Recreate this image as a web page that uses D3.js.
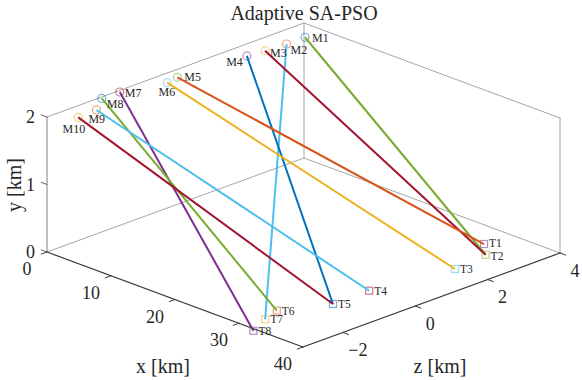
<!DOCTYPE html>
<html>
<head>
<meta charset="utf-8">
<script src="https://cdn.jsdelivr.net/npm/d3@7/dist/d3.min.js"></script>
<style>
  html, body { margin: 0; padding: 0; background: #fff; }
</style>
</head>
<body>
<svg id="chart" width="582" height="380"></svg>
<script>
// ---------------- data ----------------
const missileNames = ["M1","M2","M3","M4","M5","M6","M7","M8","M9","M10"];
const missileX = [3.1, 3.1, 2.85, 2.55, 1.7, 2.05, 0.35, 0.3, 2.35, 2.5];
const missileY = [2, 2, 2, 2, 2, 2, 2, 2, 2, 2];
const missileZ = [3.48, 2.97, 2.42, 1.97, 0.2, -0.14, -1.15, -1.64, -2.15, -2.68];

const targetNames = ["T1","T2","T3","T4","T5","T6","T7","T8"];
const targetX = [32.2, 34.6, 35.25, 33.2, 33.2, 30.25, 31.2, 32.7];
const targetY = [0, 0, 0, 0, 0, 0, 0, 0];
const targetZ = [3.28, 2.9, 1.94, -0.07, -1.07, -2.1, -2.59, -3.18];

// target index (1-based) assigned to each missile
const assignment = [2, 7, 2, 5, 1, 3, 8, 6, 4, 5];

const xTicks = [0, 10, 20, 30, 40];
const yTicks = [0, 1, 2];
const zTicks = [-2, 0, 2, 4];
const xDomain = [0, 40];
const yDomain = [0, 2];
const zDomain = [-3.1, 4];

// ---------------- style / layout ----------------
const FONT = "Liberation Serif";
const TXT = "#262626";
const palette = ["#0072BD","#D95319","#EDB120","#7E2F8E","#77AC30","#4DBEEE","#A2142F"];
const missileMarkerColor = (i) => palette[i % 7];
const targetMarkerColor = (i) => palette[(i + 10) % 7];
const lineColor = (i) => palette[(i + 18) % 7];

// label nudges in px [dx, dy, anchor]
const mLabelLayout = [
  [7, 1, "start"], [4, 6, "start"], [5, 2, "start"], [-4, 6, "end"], [7, 0, "start"],
  [8, 9, "end"], [5, 1, "start"], [5, 6, "start"], [-8, 9, "start"], [7, 12, "end"]
];
const tLabelDx = 5;
const tLabelDy = [-1, 1, 0, 0, 0, 0, 0, 0];

const svg = d3.select("#chart");
const W = 582, H = 380;
svg.append("rect").attr("width", W).attr("height", H).attr("fill", "#fff");

const sx = d3.scaleLinear().domain(xDomain).range([0, 1]);
const sy = d3.scaleLinear().domain(yDomain).range([0, 1]);
const sz = d3.scaleLinear().domain(zDomain).range([0, 1]);

const O = [47, 252];
const EX = [256, 95], EY = [0, -135], EZ = [257, -94];
function P(x, y, z) {
  const a = sx(x), b = sy(y), c = sz(z);
  return [O[0] + a*EX[0] + b*EY[0] + c*EZ[0], O[1] + a*EX[1] + b*EY[1] + c*EZ[1]];
}
const [x0, x1] = xDomain, [y0, y1] = yDomain, [z0, z1] = zDomain;

const line = d3.line();
function seg(p, q, color, w) {
  svg.append("path").attr("d", line([p, q])).attr("stroke", color)
    .attr("stroke-width", w).attr("fill", "none").attr("stroke-linecap", "square");
}
function txt(x, y, s, size, anchor) {
  return svg.append("text").attr("x", x).attr("y", y).attr("text-anchor", anchor || "middle")
    .attr("dominant-baseline", "central")
    .style("font-size", size + "px").style("font-family", FONT)
    .attr("fill", TXT).text(s);
}

// back box lines
const light = "#a6a6a6";
seg(P(x0,y0,z0), P(x0,y0,z1), light, 1);
seg(P(x0,y0,z1), P(x1,y0,z1), light, 1);
seg(P(x0,y0,z1), P(x0,y1,z1), light, 1);
seg(P(x1,y0,z1), P(x1,y1,z1), light, 1);
seg(P(x0,y1,z0), P(x0,y1,z1), light, 1);
seg(P(x0,y1,z1), P(x1,y1,z1), light, 1);

// axes
seg(P(x0,y0,z0), P(x0,y1,z0), "#808080", 1);
seg(P(x0,y0,z0), P(x1,y0,z0), "#3a3a3a", 1.2);
seg(P(x1,y0,z0), P(x1,y0,z1), "#3a3a3a", 1.2);

function unit(v) { const l = Math.hypot(v[0], v[1]); return [v[0]/l, v[1]/l]; }
const ue = unit(EX), uz = unit(EZ);
const tl = 6;

// x ticks
xTicks.forEach(t => {
  const p = P(t, y0, z0);
  seg(p, [p[0] - uz[0]*tl, p[1] - uz[1]*tl], "#3a3a3a", 1);
  txt(p[0] - 20, p[1] + 17, d3.format("d")(t), 18);
});
// z ticks
zTicks.forEach(t => {
  const p = P(x1, y0, t);
  seg(p, [p[0] + ue[0]*tl, p[1] + ue[1]*tl], "#3a3a3a", 1);
  txt(p[0] + 15, p[1] + 18, t < 0 ? "\u2212" + Math.abs(t) : String(t), 18);
});
// y ticks
yTicks.forEach(t => {
  const p = P(x0, t, z0);
  seg(p, [p[0] - ue[0]*tl, p[1] - ue[1]*tl], "#666", 1);
  txt(p[0] - 12, p[1], String(t), 18, "end");
});

// axis labels & title
txt(163, 366, "x [km]", 20);
txt(440, 366, "z [km]", 20);
txt(0, 0, "y [km]", 20).attr("transform", "translate(14,185) rotate(-90)");
txt(304, 13, "Adaptive SA-PSO", 20);

// markers
const mPts = missileNames.map((n, i) => P(missileX[i], missileY[i], missileZ[i]));
const tPts = targetNames.map((n, i) => P(targetX[i], targetY[i], targetZ[i]));

svg.append("g").selectAll("circle").data(mPts).join("circle")
  .attr("cx", d => d[0]).attr("cy", d => d[1]).attr("r", 4)
  .attr("fill", "none").attr("stroke", (d, i) => missileMarkerColor(i))
  .attr("stroke-opacity", 0.55).attr("stroke-width", 1.2);

svg.append("g").selectAll("rect").data(tPts).join("rect")
  .attr("x", d => d[0] - 3.5).attr("y", d => d[1] - 3.5).attr("width", 7).attr("height", 7)
  .attr("fill", "none").attr("stroke", (d, i) => targetMarkerColor(i))
  .attr("stroke-opacity", 0.55).attr("stroke-width", 1.2);

// trajectories
svg.append("g").selectAll("path").data(assignment).join("path")
  .attr("d", (t, i) => line([mPts[i], tPts[t - 1]]))
  .attr("stroke", (t, i) => lineColor(i)).attr("stroke-width", 2).attr("fill", "none");

// labels
missileNames.forEach((d, i) => {
  txt(mPts[i][0] + mLabelLayout[i][0], mPts[i][1] + mLabelLayout[i][1], d, 12, mLabelLayout[i][2]);
});
targetNames.forEach((d, i) => {
  txt(tPts[i][0] + tLabelDx, tPts[i][1] + tLabelDy[i], d, 11.5, "start");
});
</script>
</body>
</html>
